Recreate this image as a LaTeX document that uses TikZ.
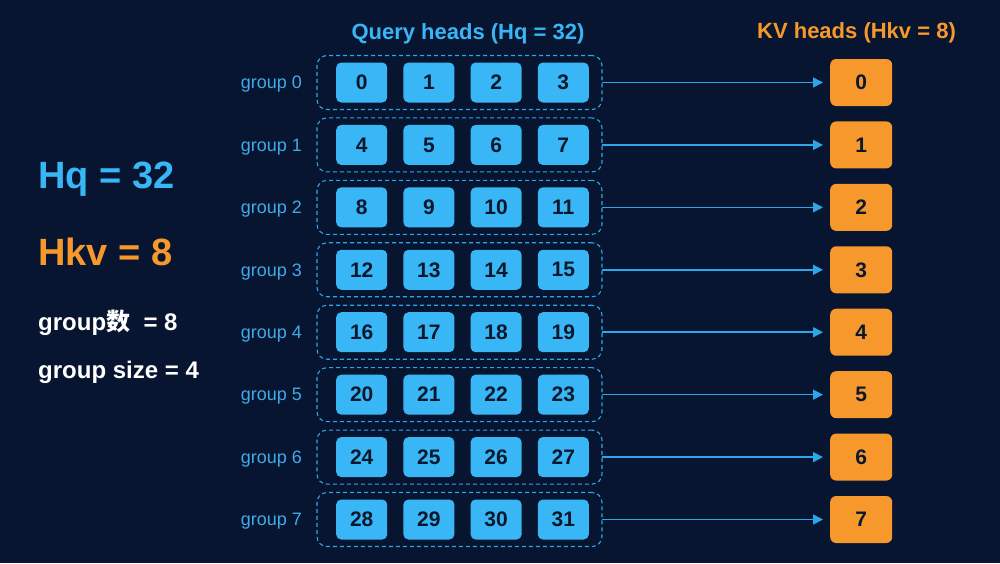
\documentclass[tikz,border=0pt]{standalone}
\usepackage{fontspec}
\setmainfont{Liberation Sans}
\newfontfamily\cjk{Noto Sans CJK SC}
\usepackage{tikz}
\usetikzlibrary{positioning, arrows.meta}
\definecolor{navy}{RGB}{7,21,48}
\definecolor{qblue}{RGB}{56,182,245}
\definecolor{lineblue}{RGB}{44,166,230}
\definecolor{labelblue}{RGB}{64,170,232}
\definecolor{kvorange}{RGB}{247,152,44}
\definecolor{inktext}{RGB}{10,24,45}

\begin{document}
\begin{tikzpicture}[x=1pt, y=1pt,
			qhead/.style={fill=qblue, rounded corners=5pt, minimum width=51pt, minimum height=40pt, inner sep=0pt, text=inktext, font=\bfseries\fontsize{21}{21}\selectfont},
			kvhead/.style={fill=kvorange, rounded corners=6pt, minimum width=62pt, minimum height=47pt, inner sep=0pt, text=inktext, font=\bfseries\fontsize{21}{21}\selectfont},
			groupBox/.style={draw=lineblue, dash pattern=on 4pt off 3pt, line width=1.1pt, rounded corners=10pt, minimum width=285pt, minimum height=54pt, inner sep=0pt, outer sep=0pt},
			groupText/.style={text=labelblue, inner sep=0pt, font=\fontsize{18}{18}\selectfont},
			title/.style={inner sep=0pt, anchor=base, font=\bfseries\fontsize{22}{22}\selectfont},
			bigText/.style={inner sep=0pt, anchor=base west, font=\bfseries\fontsize{38}{38}\selectfont},
			infoText/.style={inner sep=0pt, anchor=base west, text=white, font=\bfseries\fontsize{24}{24}\selectfont},
			arrowStrong/.style={line width=1.5pt, draw=lineblue, -{Triangle[length=10pt, width=10pt]}, shorten >=7pt},
			]
			\fill[navy] (0,0) rectangle (1000,-563);
			\useasboundingbox (0,0) rectangle (1000,-563);
			
			% groups
			\draw node[groupBox] (grp0) at (459.5,-82.5) {};
			\foreach \g [remember=\g as \p (initially 0)] in {1,...,7}
			{\draw node[groupBox][below=8.43pt of grp\p] (grp\g) {};}
			
			\foreach \g in {0,...,7}
			{\draw node[groupText][yshift=-2pt, left=15pt of grp\g] (lbl\g) {group \g};}
			
			% query heads
			\foreach \g in {0,...,7}
			{
				\pgfmathtruncatemacro\n{4*\g}
				\draw node[qhead][right=19pt of grp\g.west] (q\g0) {\n};
				\foreach \q [remember=\q as \r (initially 0)] in {1,2,3}
				{
					\pgfmathtruncatemacro\n{4*\g+\q}
					\draw node[qhead][right=15.8pt of q\g\r] (q\g\q) {\n};
				}
			}
			
			% kv heads
			\foreach \g in {0,...,7}
			{\draw node[kvhead][right=228pt of grp\g] (kv\g) {\g};}
			
			% titles
			\draw node[title, text=qblue] (qTitle) at (468,-39) {Query heads (Hq = 32)};
			\draw node[title, text=kvorange] (kvTitle) at (856.5,-38) {KV heads (Hkv = 8)};
			
			\draw node[bigText, text=qblue] (hqText) at (38,-188) {Hq = 32};
			\draw node[bigText, text=kvorange] (hkvText) at (38,-265) {Hkv = 8};
			\draw node[infoText] (groupNum) at (38,-330) {group{\cjk 数}\ \ = 8};
			\draw node[infoText] (groupSize) at (38,-378) {group size = 4};
			
			% Arrow
			\foreach \g in {0,...,7}
			\draw [arrowStrong] (grp\g.east) -- (kv\g.west);
			
		\end{tikzpicture}
\end{document}
